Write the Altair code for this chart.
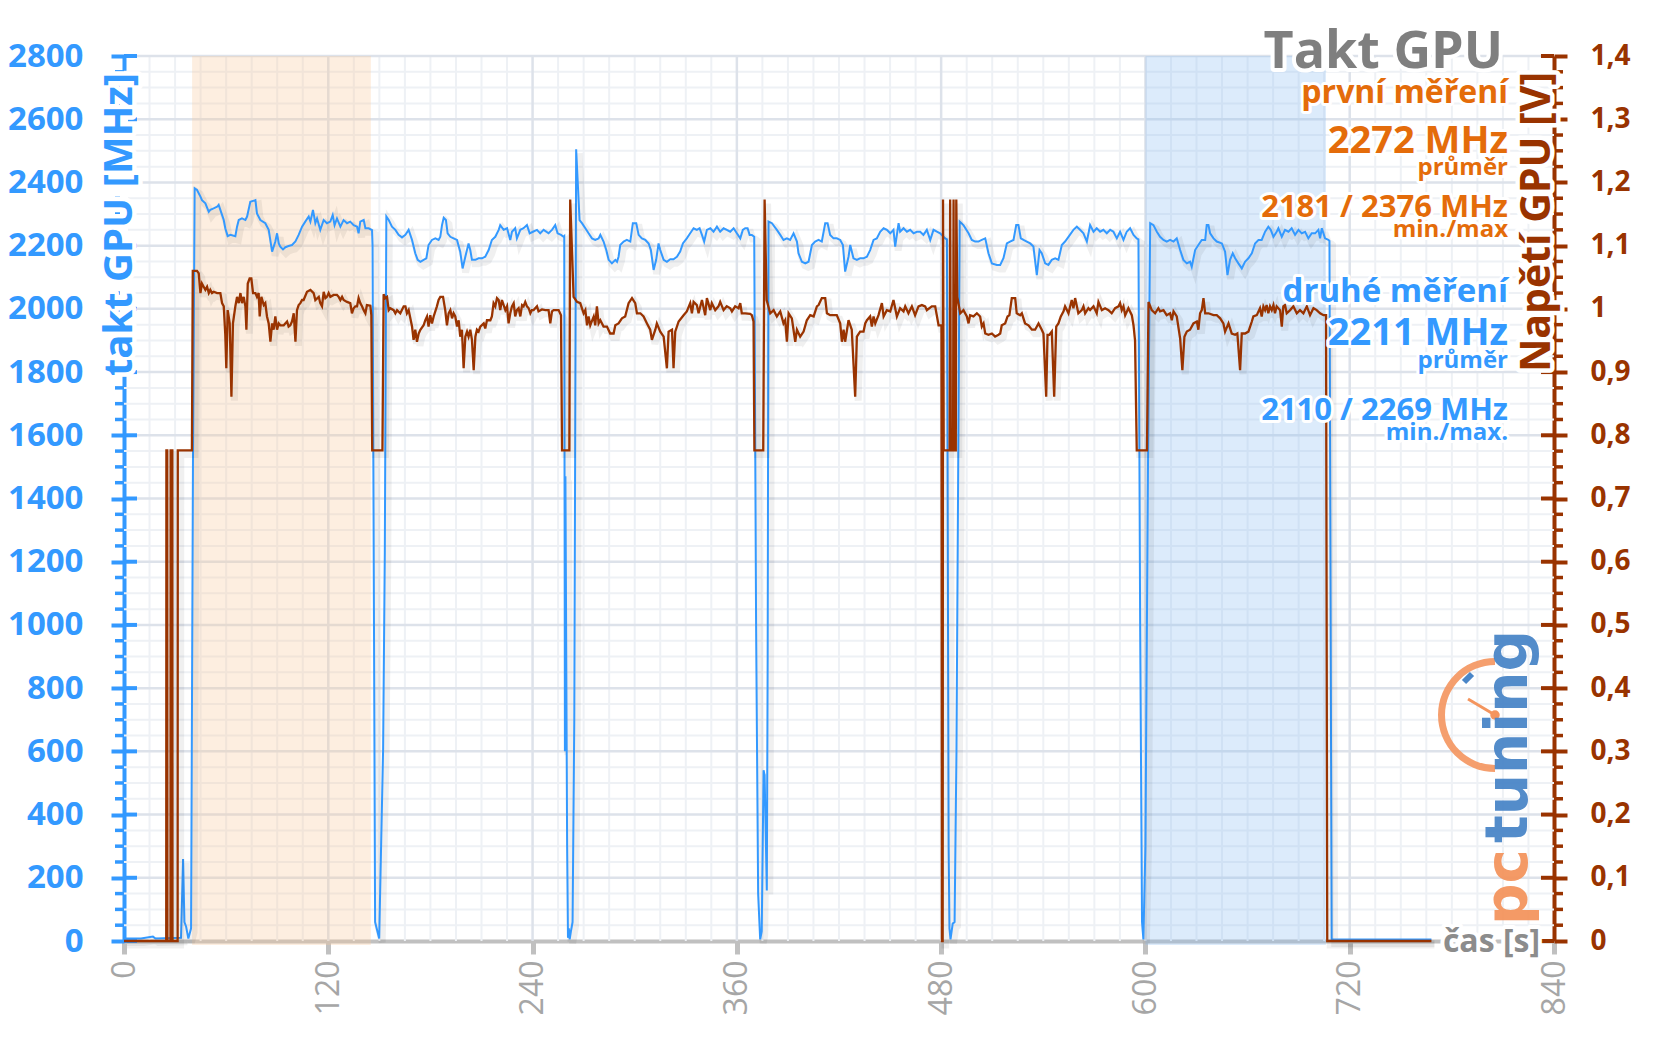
import altair as alt
import pandas as pd

# ---------------- data ----------------
# GPU clock [MHz] vs time [s]
CLOCK = [
    (0, 8), (10, 8), (17, 14), (18.5, 8), (33.5, 10), (34.7, 259), (35.5, 60), (36.5, 45), (37.8, 8),
    (39.4, 40), (40.5, 1500), (41.5, 2381),
    (42.9, 2376), (44.9, 2355), (45.8, 2344), (47.8, 2334), (49.8, 2307), (50.7, 2313), (52.7, 2318),
    (54.7, 2323), (55.6, 2329), (56.6, 2313), (58.6, 2281), (59.5, 2255), (60.9, 2230), (62.5, 2234),
    (65.4, 2230), (66.4, 2260), (67.4, 2281), (69.3, 2286), (71.3, 2281), (72.3, 2292), (74.2, 2339),
    (77.2, 2344), (78.1, 2302), (80.1, 2281), (83.0, 2271), (85.0, 2250), (87.0, 2181), (88.9, 2213),
    (89.9, 2239), (90.9, 2207), (91.8, 2197), (93.4, 2188), (94.8, 2195), (96.7, 2199), (98.7, 2202),
    (100.7, 2213), (102.6, 2234), (104.6, 2260), (106.5, 2276), (108.5, 2292), (109.5, 2276),
    (111.0, 2313), (112.4, 2271), (113.4, 2286), (115.3, 2250), (117.3, 2281), (119.2, 2271),
    (121.2, 2276), (122.6, 2297), (123.7, 2265), (125.1, 2286), (127.1, 2260), (129.0, 2281),
    (131.0, 2271), (132.9, 2276), (134.9, 2265), (136.9, 2260), (137.8, 2239), (138.8, 2276),
    (140.8, 2281), (141.8, 2255), (143.7, 2255), (145.7, 2249),
    (146.0, 2200), (147.5, 60), (149.9, 8), (152.2, 605), (153.2, 1228), (154.1, 2292),
    (155.5, 2281), (157.4, 2260), (159.4, 2250), (161.3, 2234), (163.3, 2226), (165.3, 2234),
    (167.2, 2250), (169.2, 2218), (171.1, 2176), (172.5, 2155), (174.1, 2149), (176.0, 2155),
    (177.6, 2160), (178.9, 2202), (180.9, 2218), (182.9, 2223), (184.8, 2218), (185.8, 2228),
    (186.8, 2265), (187.8, 2288), (189.1, 2281), (190.1, 2239), (191.7, 2228), (193.6, 2223),
    (195.6, 2218), (197.5, 2181), (198.9, 2128), (200.5, 2165), (202.4, 2207), (203.4, 2186),
    (204.4, 2155), (206.4, 2155), (208.3, 2160), (210.3, 2160), (212.2, 2165), (214.2, 2186),
    (216.1, 2218), (218.1, 2228), (220.1, 2250), (221.0, 2265), (223.0, 2250), (225.0, 2255),
    (226.9, 2218), (227.9, 2244), (229.8, 2255), (230.8, 2223), (232.8, 2250), (234.7, 2255),
    (236.7, 2265), (238.3, 2239), (240.2, 2244), (242.6, 2250), (244.5, 2239), (246.5, 2250),
    (249.4, 2239), (251.4, 2250), (253.3, 2265), (254.7, 2239), (256.7, 2234), (258.2, 2228),
    (258.6, 2230), (259.0, 600), (259.3, 1470), (260.3, 300), (260.8, 10), (261.3, 40), (261.8, 5),
    (262.5, 30), (263.5, 60), (264.5, 700), (265.6, 2505),
    (267.6, 2281), (269.0, 2271), (271.0, 2255), (272.9, 2239), (274.9, 2223), (276.8, 2218),
    (278.8, 2223), (279.8, 2234), (281.7, 2213), (283.3, 2186), (284.7, 2155), (286.6, 2144),
    (288.6, 2155), (289.6, 2149), (290.5, 2165), (291.5, 2202), (293.5, 2213), (295.4, 2218),
    (297.4, 2213), (298.9, 2271), (300.9, 2271), (302.3, 2234), (304.2, 2223), (306.2, 2218),
    (308.2, 2207), (309.5, 2186), (311.1, 2123), (312.6, 2155), (314.0, 2207), (315.0, 2186),
    (317.0, 2155), (318.9, 2149), (320.9, 2157), (322.8, 2157), (324.8, 2165), (326.7, 2181),
    (328.3, 2207), (330.6, 2223), (332.6, 2239), (334.6, 2255), (336.5, 2250), (338.1, 2255),
    (339.5, 2234), (340.8, 2213), (342.4, 2250), (344.4, 2255), (346.3, 2244), (348.3, 2260),
    (350.2, 2244), (352.2, 2255), (354.1, 2250), (356.1, 2244), (358.1, 2255), (360.0, 2239),
    (362.0, 2223), (363.5, 2250), (364.9, 2255), (366.3, 2255), (367.5, 2234), (368.8, 2234),
    (370.2, 2228),
    (371.3, 1000), (372.5, 150), (373.7, 5), (374.6, 30), (375.7, 540), (376.3, 525), (377.6, 160),
    (378.1, 900), (378.6, 2276),
    (380.6, 2271), (383.5, 2250), (385.5, 2234), (387.4, 2218), (389.4, 2223), (391.3, 2218),
    (393.3, 2239), (395.3, 2213), (396.2, 2176), (398.2, 2149), (400.2, 2144), (402.1, 2149),
    (404.1, 2202), (406.0, 2213), (408.0, 2218), (409.9, 2213), (411.9, 2271), (413.3, 2271),
    (414.8, 2234), (416.8, 2223), (418.7, 2223), (420.7, 2218), (422.3, 2202), (423.6, 2118),
    (425.6, 2165), (426.6, 2202), (428.5, 2160), (430.5, 2155), (432.4, 2160), (434.4, 2160),
    (436.4, 2165), (438.3, 2186), (440.3, 2218), (442.2, 2223), (444.2, 2244), (446.2, 2255),
    (448.1, 2250), (450.1, 2239), (452.0, 2250), (453.0, 2197), (455.0, 2271), (455.9, 2244),
    (457.9, 2255), (459.9, 2244), (461.8, 2250), (463.8, 2239), (465.7, 2244), (467.7, 2244),
    (469.6, 2234), (471.6, 2250), (473.6, 2218), (475.5, 2250), (477.5, 2244), (479.4, 2239),
    (482.4, 2223), (483.4, 2220),
    (484.4, 300), (484.9, 40), (485.5, 5), (486.8, 55), (487.9, 60), (489.0, 600), (490.9, 2276),
    (493.1, 2265), (496.1, 2239), (498.0, 2218), (500.0, 2213), (501.9, 2213), (503.9, 2218),
    (505.9, 2223), (507.8, 2176), (509.8, 2144), (512.7, 2139), (514.7, 2139), (516.6, 2160),
    (518.6, 2207), (520.5, 2213), (522.5, 2218), (524.1, 2265), (525.4, 2265), (526.8, 2223),
    (528.4, 2218), (530.3, 2213), (532.3, 2207), (534.2, 2197), (536.2, 2107), (537.8, 2186),
    (539.1, 2176), (541.1, 2144), (543.0, 2139), (545.0, 2155), (547.0, 2160), (548.9, 2155),
    (550.9, 2202), (552.8, 2213), (554.8, 2228), (557.7, 2250), (559.7, 2260), (561.6, 2250),
    (563.6, 2239), (565.6, 2213), (567.5, 2265), (569.5, 2244), (571.4, 2255), (573.4, 2244),
    (575.3, 2250), (577.3, 2239), (579.3, 2250), (581.2, 2244), (583.2, 2223), (585.1, 2244),
    (587.1, 2218), (589.0, 2244), (591.0, 2255), (593.0, 2234), (594.9, 2223), (595.9, 2220),
    (596.9, 1000), (598.0, 60), (598.8, 5), (600.0, 300), (601.5, 1500), (602.8, 2271),
    (604.7, 2265), (606.7, 2244), (608.6, 2228), (610.6, 2218), (612.5, 2213), (614.5, 2218),
    (616.5, 2213), (618.4, 2223), (620.4, 2186), (622.3, 2155), (624.3, 2144), (626.2, 2149),
    (627.2, 2133), (629.2, 2186), (631.1, 2202), (633.1, 2218), (635.1, 2218), (636.0, 2265),
    (637.0, 2265), (638.0, 2239), (640.0, 2223), (641.9, 2213), (644.9, 2207), (646.8, 2181),
    (648.2, 2107), (649.7, 2155), (651.3, 2176), (652.7, 2160), (654.6, 2144), (656.6, 2128),
    (658.5, 2149), (660.5, 2160), (662.5, 2176), (664.4, 2207), (666.4, 2218), (668.3, 2218),
    (670.3, 2244), (672.2, 2260), (673.6, 2250), (675.2, 2228), (677.1, 2244), (678.1, 2255),
    (680.1, 2228), (682.0, 2250), (684.0, 2244), (685.9, 2255), (687.9, 2234), (689.9, 2250),
    (691.8, 2239), (693.8, 2244), (695.7, 2223), (697.7, 2239), (699.7, 2239), (701.6, 2250),
    (702.6, 2223), (703.6, 2255), (705.5, 2223), (707.5, 2218), (708.1, 2215),
    (709.4, 5), (768, 5),
]

# GPU voltage [V] vs time [s]
VOLT = [
    (0, 0), (24.8, 0), (24.9, 0.776), (25.4, 0.776), (25.5, 0), (27.3, 0), (27.4, 0.776),
    (28.4, 0.776), (28.5, 0), (31.5, 0), (31.6, 0.776), (39.9, 0.776), (40.4, 1.060),
    (42.9, 1.060), (43.9, 1.056), (44.9, 1.025), (45.8, 1.040), (46.8, 1.035), (47.8, 1.030),
    (48.8, 1.035), (49.8, 1.025), (50.7, 1.030), (51.7, 1.025), (52.7, 1.027), (54.7, 1.025),
    (56.6, 1.025), (57.6, 1.009), (58.6, 1.004), (59.5, 0.959), (60.1, 0.906), (60.9, 0.998),
    (62.1, 0.977), (63.1, 0.861), (64.0, 0.977), (65.4, 1.004), (66.4, 1.019), (67.4, 1.009),
    (68.4, 1.025), (69.3, 1.009), (70.3, 1.019), (71.3, 1.004), (71.9, 0.967), (72.7, 1.040),
    (73.8, 1.048), (74.8, 1.048), (75.8, 1.025), (77.2, 1.025), (78.1, 1.019), (79.1, 1.025),
    (79.7, 0.988), (80.7, 1.019), (82.1, 1.006), (83.0, 1.009), (84.0, 0.988), (85.0, 0.977),
    (86.0, 0.948), (87.0, 0.977), (87.9, 0.967), (88.9, 0.988), (89.9, 0.967), (90.9, 0.977),
    (91.8, 0.974), (93.8, 0.974), (95.8, 0.980), (96.7, 0.972), (97.7, 0.974), (98.7, 0.980),
    (99.7, 0.993), (100.7, 0.948), (101.6, 0.998), (102.6, 1.006), (103.6, 1.009), (104.6, 1.014),
    (105.5, 1.014), (107.5, 1.027), (109.5, 1.030), (111.4, 1.025), (112.4, 1.014), (114.4, 1.019),
    (115.3, 1.009), (116.3, 1.004), (117.3, 1.027), (118.3, 1.017), (119.2, 1.019), (120.2, 1.025),
    (121.2, 1.019), (123.2, 1.022), (125.1, 1.022), (126.1, 1.019), (127.1, 1.014), (128.1, 1.019),
    (129.0, 1.014), (131.0, 1.011), (132.9, 1.009), (133.9, 0.993), (134.9, 1.001), (135.9, 1.004),
    (136.9, 1.004), (137.8, 1.017), (138.8, 1.009), (139.8, 1.004), (140.8, 0.998), (141.8, 0.993),
    (142.7, 1.006), (144.7, 1.005), (145.3, 0.990),
    (145.8, 0.776), (151.8, 0.776), (152.5, 1.023),
    (153.5, 1.017), (154.5, 1.019), (155.5, 0.998), (156.4, 1.001), (158.4, 0.998), (159.4, 0.993),
    (160.4, 0.998), (162.3, 0.993), (164.3, 1.004), (165.3, 1.004), (166.2, 0.993), (167.2, 0.998),
    (169.2, 0.972), (170.1, 0.951), (171.1, 0.967), (172.1, 0.948), (173.1, 0.961), (174.1, 0.967),
    (176.0, 0.974), (177.0, 0.982), (178.0, 0.988), (178.9, 0.972), (179.9, 0.990), (180.9, 0.977),
    (181.9, 0.988), (183.8, 1.004), (184.8, 1.014), (185.8, 1.019), (187.4, 1.019), (188.7, 0.998),
    (189.7, 0.974), (190.7, 0.993), (191.7, 0.998), (192.7, 0.985), (193.6, 0.993), (194.6, 0.988),
    (195.6, 0.972), (196.6, 0.982), (197.5, 0.956), (198.5, 0.967), (199.5, 0.906), (200.5, 0.956),
    (201.5, 0.964), (202.4, 0.956), (203.4, 0.967), (204.4, 0.951), (205.4, 0.903), (206.4, 0.956),
    (207.3, 0.967), (208.3, 0.964), (209.3, 0.972), (211.3, 0.977), (212.2, 0.969), (213.2, 0.982),
    (215.2, 0.982), (216.1, 0.988), (217.1, 1.009), (218.1, 1.004), (219.1, 1.017), (220.1, 1.014),
    (221.0, 0.998), (222.0, 1.014), (224.0, 0.998), (225.0, 1.004), (225.9, 0.977), (226.9, 0.993),
    (227.9, 1.004), (228.9, 1.009), (229.8, 0.988), (230.8, 0.998), (231.8, 1.001), (232.8, 0.988),
    (233.8, 1.006), (234.7, 1.004), (235.7, 1.011), (236.7, 1.004), (237.7, 1.001), (238.7, 0.993),
    (239.6, 0.998), (240.6, 0.998), (242.6, 1.004), (243.5, 0.996), (245.5, 0.999), (247.5, 0.998),
    (249.4, 0.998), (250.4, 0.977), (251.4, 0.996), (252.4, 0.998), (254.3, 0.998), (255.3, 0.998),
    (256.7, 0.990),
    (257.3, 0.776), (261.6, 0.776), (262.1, 1.173), (264.1, 1.019),
    (266.1, 1.011), (268.0, 1.009), (270.0, 0.993), (271.0, 0.998), (272.0, 0.974), (272.9, 0.988),
    (273.9, 0.974), (275.9, 0.988), (276.8, 0.974), (277.8, 1.004), (278.8, 0.977), (279.8, 0.982),
    (281.7, 0.972), (283.7, 0.972), (285.6, 0.961), (287.6, 0.961), (288.6, 0.974), (290.5, 0.977),
    (292.5, 0.985), (294.4, 0.988), (296.4, 1.009), (298.4, 1.017), (300.3, 1.009), (301.3, 0.993),
    (303.3, 0.993), (305.2, 0.988), (307.2, 0.977), (309.1, 0.967), (310.1, 0.951), (312.1, 0.967),
    (313.0, 0.977), (315.0, 0.964), (317.0, 0.956), (318.9, 0.906), (319.9, 0.964), (321.9, 0.967),
    (322.8, 0.906), (323.8, 0.964), (325.8, 0.980), (328.7, 0.990), (330.6, 0.996), (332.6, 1.009),
    (333.6, 0.993), (334.6, 1.011), (336.5, 1.006), (337.5, 0.993), (339.5, 1.014), (341.4, 0.990),
    (342.4, 1.017), (344.4, 0.998), (345.3, 1.009), (347.3, 0.998), (349.2, 1.004), (350.2, 1.011),
    (352.2, 0.998), (354.1, 1.004), (356.1, 1.001), (357.1, 0.996), (359.0, 1.004), (361.0, 1.001),
    (362.0, 1.009), (362.9, 0.993), (364.9, 0.993), (367.8, 0.992), (368.8, 0.990), (369.8, 0.980),
    (370.3, 0.776), (375.5, 0.776), (376.3, 1.173), (377.5, 1.014),
    (379.6, 0.993), (381.6, 0.998), (383.5, 0.988), (385.5, 0.996), (387.4, 0.977), (388.4, 0.982),
    (389.4, 0.948), (390.4, 0.993), (392.3, 0.985), (394.3, 0.948), (395.3, 0.967), (397.2, 0.956),
    (399.2, 0.964), (401.1, 0.982), (403.1, 0.990), (405.1, 0.988), (407.0, 1.004), (408.0, 1.006),
    (409.9, 1.017), (411.9, 1.017), (412.9, 0.993), (414.8, 0.990), (418.7, 0.990), (420.7, 0.977),
    (421.7, 0.948), (422.7, 0.967), (423.6, 0.948), (425.6, 0.982), (427.5, 0.967), (429.5, 0.861),
    (430.5, 0.956), (432.4, 0.964), (434.4, 0.964), (435.4, 0.977), (436.4, 0.982), (438.3, 0.988),
    (439.3, 0.972), (440.3, 0.988), (441.3, 0.977), (443.2, 0.990), (445.2, 1.009), (446.2, 0.988),
    (448.1, 0.998), (450.1, 0.996), (452.0, 1.014), (454.0, 0.988), (455.9, 1.001), (457.9, 0.996),
    (458.9, 1.004), (460.8, 0.993), (462.8, 1.004), (464.7, 0.990), (466.7, 1.004), (468.7, 1.006),
    (470.6, 1.004), (471.6, 0.998), (474.5, 1.004), (476.5, 1.004), (478.5, 0.974),
    (480.2, 0.974), (480.5, 0.0), (480.9, 0.0), (481.1, 1.173), (481.5, 0.776), (485.0, 0.776),
    (485.3, 1.173), (485.7, 0.776), (487.0, 0.776), (487.3, 1.173), (487.7, 0.776), (488.6, 0.776),
    (488.9, 1.173), (489.5, 1.019),
    (491.2, 0.993), (493.1, 0.998), (495.1, 0.988), (496.1, 0.977), (497.0, 0.990), (499.0, 0.988),
    (501.0, 0.993), (502.9, 0.988), (503.9, 0.972), (504.9, 0.977), (505.9, 0.961), (507.8, 0.959),
    (509.8, 0.961), (511.7, 0.956), (513.7, 0.959), (514.7, 0.961), (515.6, 0.974), (517.6, 0.977),
    (519.0, 0.988), (520.1, 0.990), (521.5, 1.017), (523.5, 1.017), (524.4, 0.993), (526.4, 0.990),
    (527.4, 0.993), (529.3, 0.977), (531.3, 0.974), (533.3, 0.967), (535.2, 0.967), (537.2, 0.977),
    (539.1, 0.967), (540.1, 0.961), (541.7, 0.861), (542.5, 0.959), (543.6, 0.959), (545.0, 0.964),
    (546.4, 0.861), (547.6, 0.972), (548.9, 0.977), (550.3, 0.988), (551.9, 0.996), (552.8, 1.004),
    (554.8, 0.993), (556.7, 1.014), (557.7, 1.001), (558.7, 1.017), (560.6, 0.993), (562.6, 0.998),
    (563.6, 1.004), (564.6, 0.993), (566.5, 1.001), (567.5, 0.998), (569.5, 1.004), (571.4, 0.993),
    (572.4, 1.011), (574.4, 0.998), (576.3, 1.001), (578.3, 0.998), (580.2, 0.993), (582.2, 1.001),
    (584.2, 1.004), (585.1, 1.009), (586.1, 0.998), (587.1, 1.004), (588.1, 0.990), (590.0, 1.001),
    (592.0, 0.990), (593.0, 0.974), (593.9, 0.950),
    (594.9, 0.776), (600.9, 0.776), (601.8, 1.011),
    (603.7, 0.998), (605.7, 0.993), (607.6, 1.001), (608.6, 0.996), (610.6, 0.998), (612.5, 0.990),
    (614.5, 0.993), (615.5, 0.982), (616.5, 0.996), (618.4, 0.988), (620.4, 0.953), (621.7, 0.903),
    (622.9, 0.956), (624.3, 0.964), (626.2, 0.967), (628.2, 0.977), (630.2, 0.980), (631.1, 0.967),
    (632.1, 0.993), (633.1, 0.998), (634.1, 1.017), (635.1, 0.993), (637.0, 0.993), (640.0, 0.990),
    (641.9, 0.990), (643.9, 0.985), (645.8, 0.977), (646.8, 0.964), (648.8, 0.977), (650.7, 0.961),
    (652.7, 0.959), (654.0, 0.961), (655.6, 0.903), (656.6, 0.961), (658.5, 0.961), (660.5, 0.964),
    (662.5, 0.980), (663.4, 0.988), (665.4, 0.990), (667.3, 1.001), (668.3, 0.988), (669.3, 1.004),
    (670.3, 0.998), (671.2, 1.006), (672.2, 0.993), (673.2, 1.004), (674.2, 0.998), (675.2, 1.006),
    (676.1, 0.993), (677.1, 1.004), (679.1, 0.998), (680.1, 0.972), (681.0, 1.004), (682.0, 1.006),
    (683.0, 0.993), (685.0, 0.998), (686.9, 1.004), (688.9, 0.993), (690.8, 0.998), (692.8, 0.993),
    (694.8, 1.004), (696.7, 0.990), (698.7, 1.001), (700.6, 0.998), (702.6, 0.993), (704.6, 0.990),
    (706.1, 0.990),
    (706.8, 0.0), (768, 0.0),
]

# highlighted intervals [s]
BAND_START = [40, 600]
BAND_END = [145, 706]
BAND_NAME = ["first", "second"]

# axis tick values
T_MAJOR = list(range(0, 841, 120))
T_MINOR = list(range(0, 841, 15))
MHZ_MAJOR = list(range(0, 2801, 200))
MHZ_MINOR = list(range(0, 2801, 50))
V_MAJOR = [round(i * 0.1, 1) for i in range(15)]

# annotation texts
TITLE = "Takt GPU"
Y_TITLE_LEFT = "takt GPU [MHz]"
Y_TITLE_RIGHT = "Napětí GPU [V]"
X_TITLE = "čas [s]"
RUN1 = ["první měření", "2272 MHz", "průměr", "2181 / 2376 MHz", "min./max"]
RUN2 = ["druhé měření", "2211 MHz", "průměr", "2110 / 2269 MHz", "min./max."]

# ---------------- chart ----------------
W, H = 1430, 885
BLUE = "#3399ff"
BROWN = "#993300"
ORANGE = "#e46c0a"
FONT = "Open Sans"

clock_df = pd.DataFrame(CLOCK, columns=["t", "mhz"])
volt_df = pd.DataFrame(VOLT, columns=["t", "v"])
band_df = pd.DataFrame({"start": BAND_START, "end": BAND_END, "name": BAND_NAME})
ONE = pd.DataFrame({"k": [0]})

xs = alt.Scale(domain=[0, 840], nice=False, zero=False)
ys = alt.Scale(domain=[0, 2800], nice=False)
vs = alt.Scale(domain=[0, 1.4], nice=False)

x_axis = alt.Axis(
    values=T_MAJOR, labelAngle=270, labelFont=FONT, labelFontSize=32, labelFontWeight="normal",
    labelColor="#a6a6a6", domainColor="#c0c0c0", domainWidth=4, tickColor="#c0c0c0",
    tickWidth=5, tickSize=13, labelPadding=6, grid=False, title=None, labelFlush=False,
    labelOverlap=False, zindex=0,
)
y_axis = alt.Axis(
    values=MHZ_MAJOR, orient="left", format="d", labelFont=FONT, labelFontSize=33,
    labelFontWeight="bold", labelColor=BLUE, domainColor=BLUE, domainWidth=4, tickColor=BLUE,
    tickWidth=4, tickSize=13, labelPadding=28, grid=False, title=None, labelFlush=False,
    labelOverlap=False, zindex=0,
)
v_axis = alt.Axis(
    values=V_MAJOR, orient="right", labelFont=FONT, labelFontSize=28, labelFontWeight="bold",
    labelColor=BROWN, domainColor=BROWN, domainWidth=4, tickColor=BROWN, tickWidth=4,
    tickSize=13, labelPadding=23, grid=False, title=None, labelFlush=False, labelOverlap=False,
    zindex=0,
    labelExpr="datum.value == 0 ? '0' : (datum.value == 1 ? '1' : replace(format(datum.value, '.1f'), '.', ','))",
)

minor_h = [v for v in MHZ_MINOR if v % 200 != 0]
minor_t = [v for v in T_MINOR if v % 120 != 0]

X = lambda f: alt.X(f, scale=xs, axis=x_axis)
Y = lambda f: alt.Y(f, scale=ys, axis=y_axis)
V = lambda f: alt.Y(f, scale=vs, axis=v_axis)

grid_h_minor = alt.Chart(pd.DataFrame({"v": minor_h})).mark_rule(color="#eef1f5", strokeWidth=2).encode(y=Y("v:Q"))
grid_v_minor = alt.Chart(pd.DataFrame({"t": minor_t})).mark_rule(color="#eef1f5", strokeWidth=2).encode(x=X("t:Q"))
grid_h_major = alt.Chart(pd.DataFrame({"v": MHZ_MAJOR[1:]})).mark_rule(color="#dde2ea", strokeWidth=2.5).encode(y=Y("v:Q"))
grid_v_major = alt.Chart(pd.DataFrame({"t": T_MAJOR[1:-1]})).mark_rule(color="#dde2ea", strokeWidth=2.5).encode(x=X("t:Q"))

bands = alt.Chart(band_df).mark_rect(opacity=0.3).encode(
    x=X("start:Q"),
    x2="end:Q",
    y=alt.value(0),
    y2=alt.value(H + 4),
    color=alt.Color("name:N", scale=alt.Scale(domain=BAND_NAME, range=["#f8c698", "#8abcf2"]), legend=None),
)

blue_shadow = alt.Chart(clock_df).mark_line(color="#000000", opacity=0.06, strokeWidth=7, xOffset=3,
                                            yOffset=4).encode(x=X("t:Q"), y=Y("mhz:Q"))
blue_line = alt.Chart(clock_df).mark_line(color=BLUE, strokeWidth=2).encode(x=X("t:Q"), y=Y("mhz:Q"))

# tick parts that the axes cannot draw (inner halves, minor ticks)
left_inner = alt.Chart(pd.DataFrame({"v": MHZ_MAJOR})).mark_rule(color=BLUE, strokeWidth=4).encode(
    y=Y("v:Q"), x=alt.value(0), x2=alt.value(13))
left_minor = alt.Chart(pd.DataFrame({"v": minor_h})).mark_rule(color=BLUE, strokeWidth=3.5).encode(
    y=Y("v:Q"), x=alt.value(-9), x2=alt.value(0))
right_inner = alt.Chart(pd.DataFrame({"v": MHZ_MAJOR})).mark_rule(color=BROWN, strokeWidth=4).encode(
    y=Y("v:Q"), x=alt.value(W - 13), x2=alt.value(W))
right_minor = alt.Chart(pd.DataFrame({"v": minor_h})).mark_rule(color=BROWN, strokeWidth=3.5).encode(
    y=Y("v:Q"), x=alt.value(W), x2=alt.value(W + 9))

left_group = alt.layer(grid_h_minor, grid_v_minor, grid_h_major, grid_v_major, bands,
                       blue_shadow, blue_line, left_inner, left_minor, right_inner, right_minor)

brown_shadow = alt.Chart(volt_df).mark_line(color="#000000", opacity=0.06, strokeWidth=7, xOffset=3,
                                            yOffset=4).encode(x=X("t:Q"), y=V("v:Q"))
brown_line = alt.Chart(volt_df).mark_line(color=BROWN, strokeWidth=2.3).encode(x=X("t:Q"), y=V("v:Q"))
right_group = alt.layer(brown_shadow, brown_line)


def label(text, x, y, size, color, align="right", angle=0, weight="bold", font=FONT, halo=6, opacity=1.0):
    common = dict(text=text, align=align, baseline="alphabetic", angle=angle, fontSize=size,
                  font=font, fontWeight=weight)
    out = []
    if halo:
        out.append(alt.Chart(ONE).mark_text(color="white", stroke="white", strokeWidth=halo,
                                            strokeJoin="round", **common).encode(
            x=alt.value(x), y=alt.value(y)))
    out.append(alt.Chart(ONE).mark_text(color=color, opacity=opacity, **common).encode(
        x=alt.value(x), y=alt.value(y)))
    return out


texts = []
# pctuning logo
LOGO_OR = "#f4955e"
LOGO_BL = "#4a86c8"
logo_arc = alt.Chart(ONE).mark_arc(color=LOGO_OR, theta=3.1416, theta2=6.2832, radius=57, radius2=50,
                                   opacity=0.9).encode(x=alt.value(1371), y=alt.value(659))
logo_needle = alt.Chart(ONE).mark_rule(color=LOGO_OR, strokeWidth=3).encode(
    x=alt.value(1344), x2=alt.value(1371), y=alt.value(643), y2=alt.value(659))
logo_dot = alt.Chart(ONE).mark_point(filled=True, color=LOGO_OR, size=90, opacity=1).encode(
    x=alt.value(1371), y=alt.value(659))
logo_tick = alt.Chart(ONE).mark_rule(color=LOGO_BL, strokeWidth=6).encode(
    x=alt.value(1340), x2=alt.value(1348), y=alt.value(626), y2=alt.value(618))
texts += [logo_arc, logo_needle, logo_dot, logo_tick]
texts += label("pc", 1403, 869, 58, LOGO_OR, align="left", angle=270, font="DejaVu Sans", halo=0, opacity=0.95)
texts += label("tuning", 1403, 787, 58, LOGO_BL, align="left", angle=270, font="DejaVu Sans", halo=0, opacity=0.95)

# white glow behind the left axis title, hiding the axis line there (as in the reference)
title_glow = alt.Chart(ONE).mark_rule(color="white", strokeWidth=8).encode(
    x=alt.value(0), y=alt.value(19), y2=alt.value(316))
texts.append(title_glow)

texts += label(TITLE, 1379, 12, 52, "#7f7f7f", halo=8)
texts += label(RUN1[0], 1384, 47, 32, ORANGE)
texts += label(RUN1[1], 1384, 97, 38, ORANGE)
texts += label(RUN1[2], 1384, 119, 24, ORANGE)
texts += label(RUN1[3], 1384, 161, 31, ORANGE)
texts += label(RUN1[4], 1384, 181, 24, ORANGE)
texts += label(RUN2[0], 1384, 246, 33, BLUE)
texts += label(RUN2[1], 1384, 289, 38, BLUE)
texts += label(RUN2[2], 1384, 312, 24, BLUE)
texts += label(RUN2[3], 1384, 364, 31, BLUE)
texts += label(RUN2[4], 1384, 384, 24, BLUE)
texts += label(Y_TITLE_LEFT, 8, 17, 40, BLUE, angle=270, halo=9)
texts += label(Y_TITLE_RIGHT, 1426, 16, 41, BROWN, angle=270, halo=9)
texts += label(X_TITLE, 1416, 896, 32, "#8c8c8c", halo=8)

chart = alt.layer(left_group, right_group, *texts).resolve_scale(y="independent").properties(
    width=W, height=H,
    autosize=alt.AutoSizeParams(type="none"),
    padding={"left": 116, "top": 48, "right": 90, "bottom": 90},
).configure_view(stroke=None).configure(font=FONT)

chart.save("out.html", embed_options={"renderer": "svg", "actions": False})
